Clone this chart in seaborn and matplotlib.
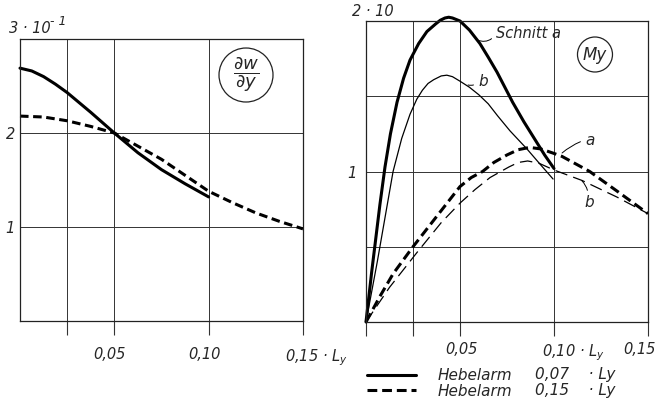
import matplotlib
matplotlib.use("Agg")
import matplotlib.pyplot as plt
import matplotlib.transforms as mtransforms
from matplotlib.patches import Ellipse
import seaborn as sns

sns.set_style("white")
plt.rcParams["font.family"] = ["Liberation Sans Narrow", "DejaVu Sans"]
plt.rcParams["font.style"] = "italic"
plt.rcParams["mathtext.fontset"] = "custom"
plt.rcParams["mathtext.it"] = "Liberation Sans Narrow:italic"
plt.rcParams["mathtext.rm"] = "Liberation Sans Narrow:italic"

# left panel: dw/dy (units of 10^-1)
dw_x_solid = [0, 0.00625, 0.0125, 0.01875, 0.025, 0.0375, 0.05, 0.0625, 0.075,
              0.0875, 0.10]
dw_solid = [2.69, 2.66, 2.60, 2.52, 2.43, 2.22, 2.00, 1.79, 1.61,
            1.46, 1.32]
dw_x_dash = [0, 0.0125, 0.025, 0.0375, 0.05, 0.0625, 0.075, 0.0875, 0.10,
             0.1125, 0.125, 0.1375, 0.15]
dw_dash = [2.18, 2.17, 2.13, 2.07, 2.00, 1.86, 1.72, 1.55, 1.38,
           1.26, 1.15, 1.06, 0.98]

# right panel: My (units of 10)
my_x_a = [0, 0.003, 0.0074, 0.0101, 0.013, 0.0165, 0.02, 0.0234, 0.028, 0.0324,
          0.037, 0.0395, 0.042, 0.044, 0.046, 0.048, 0.05, 0.055, 0.0606, 0.065,
          0.0697, 0.078, 0.084, 0.09, 0.095, 0.10]
my_a = [0, 0.33, 0.78, 1.03, 1.25, 1.46, 1.62, 1.74, 1.85, 1.93,
        1.98, 2.005, 2.02, 2.025, 2.02, 2.01, 2.00, 1.94, 1.85, 1.76,
        1.66, 1.46, 1.33, 1.21, 1.11, 1.02]
my_x_b = [0, 0.006, 0.0144, 0.019, 0.0234, 0.027, 0.030, 0.033, 0.036, 0.040,
          0.043, 0.046, 0.05, 0.055, 0.06, 0.065, 0.07, 0.0766, 0.0856, 0.0925,
          0.0995]
my_b = [0, 0.40, 1.00, 1.22, 1.38, 1.48, 1.54, 1.585, 1.61, 1.635,
        1.64, 1.63, 1.60, 1.56, 1.51, 1.45, 1.37, 1.27, 1.15, 1.05,
        0.95]
my_x_da = [0, 0.0074, 0.0144, 0.025, 0.035, 0.045, 0.05, 0.056, 0.062, 0.068,
           0.075, 0.081, 0.087, 0.093, 0.10, 0.1043, 0.119, 0.1335, 0.15]
my_da = [0, 0.17, 0.32, 0.50, 0.66, 0.82, 0.90, 0.96, 1.00, 1.06,
         1.11, 1.145, 1.16, 1.15, 1.12, 1.10, 1.00, 0.87, 0.72]
my_x_db = [0, 0.0125, 0.027, 0.04, 0.05, 0.058, 0.066, 0.076, 0.081, 0.086,
           0.092, 0.10, 0.115, 0.1335, 0.15]
my_db = [0, 0.23, 0.46, 0.66, 0.79, 0.88, 0.96, 1.03, 1.06, 1.07,
         1.055, 1.01, 0.94, 0.83, 0.72]

W, H = 656, 403
fig = plt.figure(figsize=(W / 100, H / 100), dpi=100)
ax1 = fig.add_axes([20 / W, 1 - 321 / H, 283 / W, 282 / H])
ax2 = fig.add_axes([366 / W, 1 - 322 / H, 282 / W, 301 / H])

THICK, THIN = 2.2, 0.9

sns.lineplot(x=dw_x_solid, y=dw_solid, ax=ax1, color="k", lw=THICK, clip_on=False)
sns.lineplot(x=dw_x_dash, y=dw_dash, ax=ax1, color="k", lw=THICK,
             linestyle=(0, (2.8, 1.5)), clip_on=False)

sns.lineplot(x=my_x_a, y=my_a, ax=ax2, color="k", lw=THICK, clip_on=False)
sns.lineplot(x=my_x_b, y=my_b, ax=ax2, color="k", lw=THIN, clip_on=False)
sns.lineplot(x=my_x_da, y=my_da, ax=ax2, color="k", lw=THICK,
             linestyle=(0, (3.2, 1.6)), clip_on=False)
sns.lineplot(x=my_x_db, y=my_db, ax=ax2, color="k", lw=THIN,
             linestyle=(0, (10, 5)), clip_on=False)
h_solid, h_dash = ax2.lines[0], ax2.lines[2]


def shift_xticklabels(ax, offsets):
    for lbl, dx in zip(ax.get_xticklabels(), offsets):
        lbl.set_horizontalalignment("left")
        lbl.set_transform(lbl.get_transform()
                          + mtransforms.ScaledTranslation(dx / 100, 0, fig.dpi_scale_trans))


for ax in (ax1, ax2):
    ax.set_xlim(0, 0.15)
    ax.grid(True, color="#333333", lw=0.7)
    for s in ax.spines.values():
        s.set_color("#222222")
        s.set_linewidth(0.9)
    ax.set_xlabel("")
    ax.set_ylabel("")

ax1.set_ylim(0, 3)
ax1.set_xticks([0.025, 0.05, 0.10, 0.15])
ax1.set_xticklabels(["", "0,05", "0,10", "0,15 · L$_y$"])
ax1.set_yticks([1, 2, 3])
ax1.set_yticklabels(["1", "2", ""])
ax1.tick_params(axis="x", bottom=True, direction="out", length=10, width=0.8,
                color="#333333", pad=8.7, labelsize=10.5)
ax1.tick_params(axis="y", left=True, length=0, pad=3.6, labelsize=10.5)
shift_xticklabels(ax1, [0, -21, -20, -18])

ax2.set_ylim(0, 2)
ax2.set_xticks([0, 0.025, 0.05, 0.10, 0.15])
ax2.set_xticklabels(["", "", "0,05", "0,10 · L$_y$", "0,15"])
ax2.set_yticks([0.5, 1, 1.5, 2])
ax2.set_yticklabels(["", "1", "", ""])
ax2.tick_params(axis="x", bottom=True, direction="out", length=10, width=0.8,
                color="#333333", pad=4.4, labelsize=10.5)
ax2.tick_params(axis="y", left=True, length=0, pad=6.5, labelsize=10.5)
shift_xticklabels(ax2, [0, 0, -15, -12, -25])

# axis unit labels on top
fig.text(9 / W, 1 - 33 / H, "3 · 10", fontsize=10.5, va="baseline")
fig.text(50 / W, 1 - 25 / H, "- 1", fontsize=9, va="baseline")
fig.text(352 / W, 1 - 16 / H, "2 · 10", fontsize=10.5, va="baseline")

# circled symbols
ax1.add_patch(Ellipse((0.7986, 0.8723), 54 / 283, 54 / 282, transform=ax1.transAxes,
                      fill=False, ec="#222222", lw=0.9))
ax1.text(0.7986, 0.8723, r"$\dfrac{\partial w}{\partial y}$", transform=ax1.transAxes,
         ha="center", va="center", fontsize=13)
ax2.add_patch(Ellipse((0.812, 0.8887), 35 / 282, 35 / 301, transform=ax2.transAxes,
                      fill=False, ec="#222222", lw=0.9))
ax2.text(0.812, 0.8887, "My", transform=ax2.transAxes, ha="center", va="center",
         fontsize=12)

# curve labels with leader lines
lead = dict(arrowstyle="-", lw=0.7, color="k", shrinkA=1, shrinkB=0)
ax2.annotate("Schnitt a", xy=(0.059, 1.874), xytext=(0.0691, 1.914), ha="left",
             va="center", fontsize=10.5,
             arrowprops=dict(lead, relpos=(0, 0.5), connectionstyle="arc3,rad=-0.4"))
ax2.annotate("b", xy=(0.0543, 1.575), xytext=(0.0596, 1.595), ha="left",
             va="center", fontsize=11,
             arrowprops=dict(lead, relpos=(0, 0.5), connectionstyle="arc3,rad=-0.3"))
ax2.annotate("a", xy=(0.1043, 1.123), xytext=(0.1165, 1.209), ha="left",
             va="center", fontsize=11,
             arrowprops=dict(lead, relpos=(0, 0.5), connectionstyle="arc3,rad=0.1"))
ax2.annotate("b", xy=(0.1149, 0.937), xytext=(0.1186, 0.844), ha="center",
             va="top", fontsize=11,
             arrowprops=dict(lead, relpos=(0.4, 1), connectionstyle="arc3,rad=0.2"))

# legend
fig.legend(handles=[h_solid, h_dash], labels=["Hebelarm", "Hebelarm"],
           loc="upper left", bbox_to_anchor=(367 / W, 1 - 368 / H), frameon=False,
           borderpad=0, borderaxespad=0, handlelength=3.2, handletextpad=1.4,
           labelspacing=0.05, fontsize=11)
fig.text(535 / W, 1 - 375 / H, "0,07    · Ly", fontsize=11, va="center")
fig.text(535 / W, 1 - 390 / H, "0,15    · Ly", fontsize=11, va="center")

fig.savefig("out.png", dpi=100)
